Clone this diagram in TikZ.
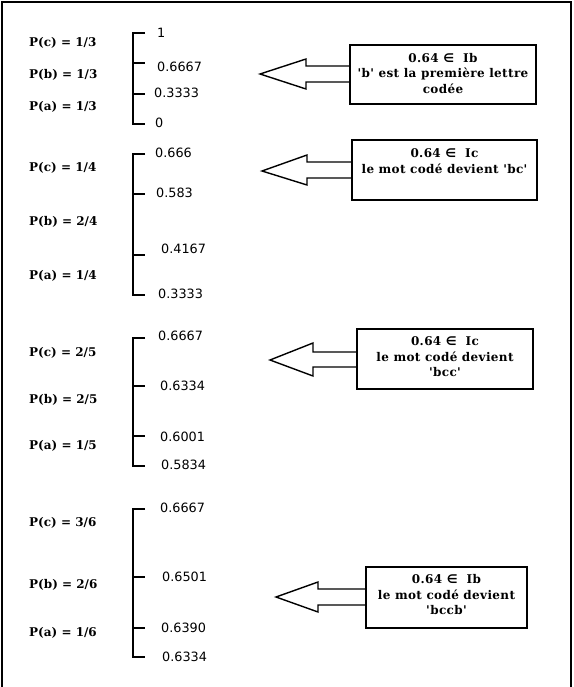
\documentclass[tikz,border=0pt]{standalone}
\usepackage{fontspec}
\newfontfamily\plfont{DejaVu Serif}
\newfontfamily\numfont{DejaVu Sans}
\newfontfamily\msgfont[LetterSpace=3]{DejaVu Serif}
\newfontfamily\symfont{DejaVu Sans}
\begin{document}
\begin{tikzpicture}[x=1pt,y=-1pt,
  plabel/.style={anchor=west,inner sep=0pt,font=\plfont\bfseries\fontsize{12}{15}\selectfont},
  num/.style={anchor=west,inner sep=0pt,font=\numfont\fontsize{12.8}{15}\selectfont},
  msgbox/.style={draw,line width=1.4pt,inner sep=0pt},
  msgtext/.style={inner sep=0pt,align=center,font=\msgfont\bfseries\fontsize{12}{15.5}\selectfont},
  arrowline/.style={draw,line width=1.4pt,line join=miter},
  bracketline/.style={draw,line width=1.5pt},
  frameline/.style={draw,line width=2pt}]
\useasboundingbox (0,0) rectangle (573,687);
\draw[frameline] (2,690) -- (2,2.5) -- (570.5,2.5) -- (570.5,690);

% ---------- group 1 ----------
\node[plabel] (p1c) at (29,43) {P(c) = 1/3};
\node[plabel] (p1b) at (29,75) {P(b) = 1/3};
\node[plabel] (p1a) at (29,107) {P(a) = 1/3};
\draw[bracketline] (145,33) -- (133,33) -- (133,124) -- (145,124);
\draw[bracketline] (133,63) -- (145,63);
\draw[bracketline] (133,94) -- (145,94);
\node[num] (n1a) at (157,33) {1};
\node[num] (n1b) at (157,67) {0.6667};
\node[num] (n1c) at (154,93) {0.3333};
\node[num] (n1d) at (155,123) {0};

% ---------- group 2 ----------
\node[plabel] (p2c) at (29,168) {P(c) = 1/4};
\node[plabel] (p2b) at (29,222) {P(b) = 2/4};
\node[plabel] (p2a) at (29,276) {P(a) = 1/4};
\draw[bracketline] (145,154) -- (133,154) -- (133,295) -- (145,295);
\draw[bracketline] (133,194) -- (145,194);
\draw[bracketline] (133,255) -- (145,255);
\node[num] (n2a) at (155,153) {0.666};
\node[num] (n2b) at (156,193) {0.583};
\node[num] (n2c) at (161,249) {0.4167};
\node[num] (n2d) at (158,294) {0.3333};

% ---------- group 3 ----------
\node[plabel] (p3c) at (29,353) {P(c) = 2/5};
\node[plabel] (p3b) at (29,400) {P(b) = 2/5};
\node[plabel] (p3a) at (29,446) {P(a) = 1/5};
\draw[bracketline] (145,338) -- (133,338) -- (133,466) -- (145,466);
\draw[bracketline] (133,386) -- (145,386);
\draw[bracketline] (133,436) -- (145,436);
\node[num] (n3a) at (158,336) {0.6667};
\node[num] (n3b) at (160,386) {0.6334};
\node[num] (n3c) at (160,437) {0.6001};
\node[num] (n3d) at (161,465) {0.5834};

% ---------- group 4 ----------
\node[plabel] (p4c) at (29,523) {P(c) = 3/6};
\node[plabel] (p4b) at (29,585) {P(b) = 2/6};
\node[plabel] (p4a) at (29,633) {P(a) = 1/6};
\draw[bracketline] (145,509) -- (133,509) -- (133,657) -- (145,657);
\draw[bracketline] (133,577) -- (145,577);
\draw[bracketline] (133,628) -- (145,628);
\node[num] (n4a) at (160,508) {0.6667};
\node[num] (n4b) at (162,577) {0.6501};
\node[num] (n4c) at (161,628) {0.6390};
\node[num] (n4d) at (162,657) {0.6334};

% ---------- message boxes ----------
\node[msgbox,minimum width=186pt,minimum height=59pt] (m1) at (443,74.5) {};
\node[msgtext] (t1) at (443,73.5) {0.64 {\symfont ∈}\ \ Ib\\'b' est la première lettre\\codée};

\node[msgbox,minimum width=185pt,minimum height=60pt] (m2) at (444.5,170) {};
\node[msgtext] (t2) at (444.5,161) {0.64 {\symfont ∈}\ \ Ic\\le mot codé devient 'bc'};

\node[msgbox,minimum width=176pt,minimum height=60pt] (m3) at (445,359) {};
\node[msgtext] (t3) at (445,357) {0.64 {\symfont ∈}\ \ Ic\\le mot codé devient\\'bcc'};

\node[msgbox,minimum width=161pt,minimum height=61pt] (m4) at (446.5,597.5) {};
\node[msgtext] (t4) at (446.5,595) {0.64 {\symfont ∈}\ \ Ib\\le mot codé devient\\'bccb'};

% ---------- arrows ----------
\coordinate (a1t) at (0,66); \coordinate (a1b) at (0,82);
\draw[arrowline] (m1.west |- a1t) -- (306,66) -- (306,59) -- (260,74) -- (306,89) -- (306,82) -- (m1.west |- a1b);
\coordinate (a2t) at (0,162); \coordinate (a2b) at (0,178);
\draw[arrowline] (m2.west |- a2t) -- (307,162) -- (307,155) -- (262,171) -- (307,185) -- (307,178) -- (m2.west |- a2b);
\coordinate (a3t) at (0,352); \coordinate (a3b) at (0,367);
\draw[arrowline] (m3.west |- a3t) -- (313,352) -- (313,343) -- (270,360) -- (313,376) -- (313,367) -- (m3.west |- a3b);
\coordinate (a4t) at (0,589); \coordinate (a4b) at (0,605);
\draw[arrowline] (m4.west |- a4t) -- (318,589) -- (318,582) -- (276,597) -- (318,612) -- (318,605) -- (m4.west |- a4b);
\end{tikzpicture}
\end{document}
